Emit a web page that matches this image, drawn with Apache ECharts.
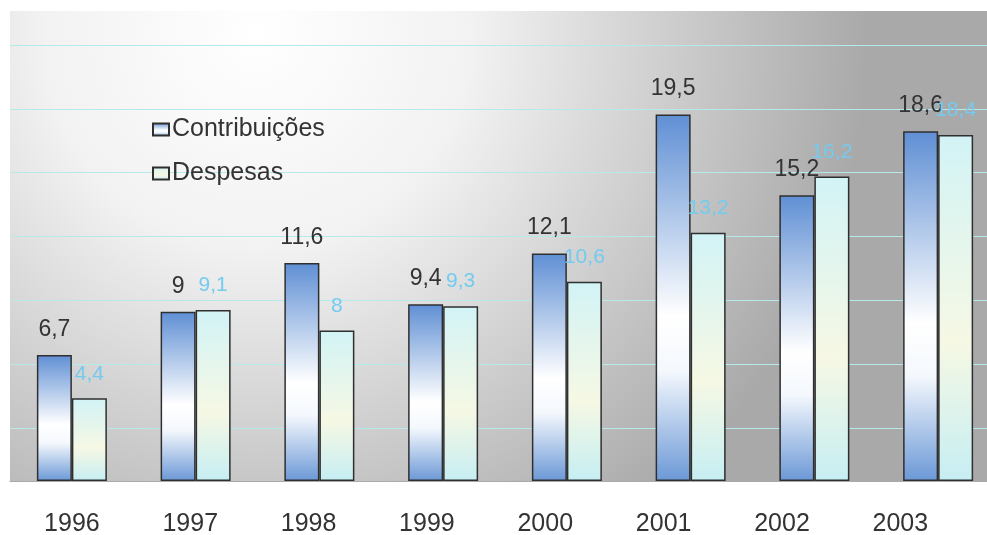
<!DOCTYPE html>
<html>
<head>
<meta charset="utf-8">
<script src="https://cdn.jsdelivr.net/npm/echarts@6/dist/echarts.min.js"></script>
<style>
  html, body { margin: 0; padding: 0; background: #fff; }
  #chart { width: 987px; height: 535px; }
</style>
</head>
<body>
<div id="chart"></div>
<script>
// data
const years = ['1996', '1997', '1998', '1999', '2000', '2001', '2002', '2003']
const contribuicoes = [6.7, 9, 11.6, 9.4, 12.1, 19.5, 15.2, 18.6]
const despesas = [4.4, 9.1, 8, 9.3, 10.6, 13.2, 16.2, 18.4]

const chart = echarts.init(document.getElementById('chart'))

const comma = p => String(p.value).replace('.', ',')

const blueFill = new echarts.graphic.LinearGradient(0, 0, 0, 1, [
  { offset: 0, color: '#5f8fd4' },
  { offset: 0.55, color: '#ffffff' },
  { offset: 0.7, color: '#f4f8fd' },
  { offset: 1, color: '#6b98d6' }
])
const cyanFill = new echarts.graphic.LinearGradient(0, 0, 0, 1, [
  { offset: 0, color: '#d2f3f6' },
  { offset: 0.6, color: '#f6f8e4' },
  { offset: 1, color: '#c6eef3' }
])

// plot runs a little past the right edge, as in the scan
const plotLeft = 10
const plotWidth = 990

// in the scan the year labels creep left of their bars, ~5px more per year
const yearRich = {}
years.forEach((y, i) => {
  yearRich['y' + i] = { padding: [0, i * 10.8, 0, 0] }
})

chart.setOption({
  animation: false,
  legend: {
    orient: 'vertical',
    left: 147,
    top: 112,
    itemGap: 19,
    itemWidth: 16,
    itemHeight: 12,
    icon: 'rect',
    textStyle: { fontFamily: 'Liberation Sans', fontSize: 25, color: '#333', padding: [0, 0, 0, -2] },
    data: ['Contribuições', 'Despesas']
  },
  grid: [
    {
      left: plotLeft, width: plotWidth, top: 11, bottom: 54,
      outerBoundsMode: 'none',
      show: true,
      borderWidth: 0,
      backgroundColor: new echarts.graphic.RadialGradient(0.25, 0.05, 1.3, [
        { offset: 0, color: '#ffffff' },
        { offset: 0.35, color: '#f2f2f2' },
        { offset: 1, color: '#a9a9a9' }
      ])
    },
    // faint gridlines of the original, which don't sit on whole values
    { left: plotLeft, width: plotWidth, top: 45, bottom: 107, outerBoundsMode: 'none', show: false }
  ],
  xAxis: [
    {
      type: 'category',
      data: years,
      axisLine: { lineStyle: { color: '#aaa' } },
      axisTick: { length: 8, lineStyle: { color: '#aaa' } },
      axisLabel: {
        interval: 0,
        hideOverlap: false,
        fontFamily: 'Liberation Sans', fontSize: 25, color: '#333', margin: 31,
        formatter: (v, i) => '{y' + i + '|' + v + '}',
        rich: yearRich
      }
    },
    { type: 'category', gridIndex: 1, data: years, show: false }
  ],
  yAxis: [
    { type: 'value', min: 0, max: 25, show: false },
    {
      type: 'value', gridIndex: 1, min: 0, max: 6, interval: 1,
      axisLine: { show: false }, axisTick: { show: false }, axisLabel: { show: false },
      splitLine: { show: true, lineStyle: { color: '#b4eaea', width: 1 } }
    }
  ],
  series: [
    {
      name: 'Contribuições',
      type: 'bar',
      data: contribuicoes,
      barWidth: 35,
      barGap: '0%',
      z: 3,
      itemStyle: { color: blueFill, borderColor: '#2f2f2f', borderWidth: 1.5 },
      label: {
        show: true, position: 'top', distance: 14, formatter: comma,
        fontFamily: 'Liberation Sans', fontSize: 23, color: '#333'
      }
    },
    {
      name: 'Despesas',
      type: 'bar',
      data: despesas,
      barWidth: 35,
      z: 3,
      itemStyle: { color: cyanFill, borderColor: '#2f2f2f', borderWidth: 1.5 },
      label: {
        show: true, position: 'top', distance: 14, formatter: comma,
        fontFamily: 'Liberation Sans', fontSize: 21, color: '#74cbef'
      }
    }
  ]
})
</script>
</body>
</html>
